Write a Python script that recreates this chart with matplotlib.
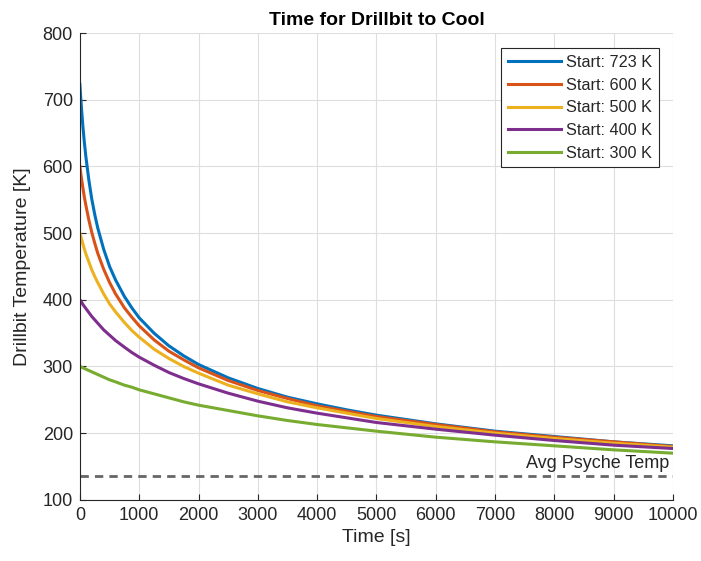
import matplotlib
matplotlib.use("Agg")
import matplotlib.pyplot as plt

plt.rcParams['font.family'] = ['Liberation Sans', 'DejaVu Sans']

# time samples [s]
t = [0, 10, 25, 50, 75, 100, 150, 200, 250, 300, 400, 500, 600, 750, 875,
     1000, 1250, 1500, 1750, 2000, 2500, 3000, 3500, 4000, 4500, 5000,
     6000, 7000, 8000, 9000, 10000]

# drillbit temperature [K]
T723 = [723, 708, 689, 660, 636, 615, 580, 551, 528, 508, 476, 450, 430, 405, 388,
        373, 350, 331, 316, 303, 283, 267, 254, 244, 235, 227,
        214, 203, 195, 187, 181]
T600 = [600, 593, 583, 568, 554, 542, 520, 501, 485, 470, 446, 426, 409, 388, 374,
        361, 340, 323, 310, 298, 279, 264, 252, 241, 233, 225,
        213, 202, 194, 187, 180]
T500 = [500, 497, 492, 484, 476, 469, 457, 445, 435, 426, 409, 394, 382, 366, 354,
        344, 326, 312, 300, 290, 272, 259, 247, 238, 230, 222,
        210, 200, 192, 185, 179]
T400 = [400, 399, 397, 393, 390, 387, 381, 375, 370, 365, 355, 347, 339, 329, 321,
        314, 302, 291, 282, 274, 260, 248, 238, 230, 223, 216,
        206, 197, 189, 182, 177]
T300 = [300, 300, 299, 298, 297, 296, 294, 292, 290, 288, 284, 280, 277, 272, 269,
        265, 259, 253, 247, 242, 234, 226, 219, 213, 208, 203,
        194, 187, 181, 175, 170]

series = [T723, T600, T500, T400, T300]
labels = ['Start: 723 K', 'Start: 600 K', 'Start: 500 K', 'Start: 400 K', 'Start: 300 K']
colors = [(0, 0.447, 0.741), (0.85, 0.325, 0.098), (0.929, 0.694, 0.125),
          (0.494, 0.184, 0.556), (0.466, 0.674, 0.188)]

psyche_temp = 136

fig = plt.figure(figsize=(7.01, 5.61), dpi=100)
ax = fig.add_axes([0.114, 0.109, 0.846, 0.832])

for T, lab, c in zip(series, labels, colors):
    ax.plot(t, T, color=c, lw=2.2, label=lab)

ax.axhline(psyche_temp, color=(0.4, 0.4, 0.4), ls=(0, (3, 2.2)), lw=2)
dark = (0.15, 0.15, 0.15)
ax.text(9930, 155, 'Avg Psyche Temp', ha='right', va='center',
        fontsize=13, color=dark)

ax.set_xlim(0, 10000)
ax.set_ylim(100, 800)
ax.set_xticks(range(0, 10001, 1000))
ax.set_yticks(range(100, 801, 100))
ax.grid(True, color=(0.87, 0.87, 0.87), lw=0.8)
ax.set_axisbelow(True)

for s in ['top', 'right']:
    ax.spines[s].set_visible(False)
for s in ['left', 'bottom']:
    ax.spines[s].set_color(dark)
    ax.spines[s].set_linewidth(0.8)
ax.tick_params(direction='in', length=4, width=0.8, colors=dark,
               labelsize=13, pad=5)

ax.set_xlabel('Time [s]', fontsize=14, color=dark, labelpad=4)
ax.set_ylabel('Drillbit Temperature [K]', fontsize=14, color=dark, labelpad=8)
ax.set_title('Time for Drillbit to Cool', fontsize=14, fontweight='bold', pad=6)

leg = ax.legend(loc='upper right', fontsize=11.7, handlelength=3.3,
                handletextpad=0.3, labelspacing=0.48, borderpad=0.4,
                fancybox=False, framealpha=1, edgecolor=dark,
                bbox_to_anchor=(0.99, 0.985))
leg.get_frame().set_linewidth(0.8)
for txt in leg.get_texts():
    txt.set_color(dark)

fig.savefig('out.png', dpi=100)
